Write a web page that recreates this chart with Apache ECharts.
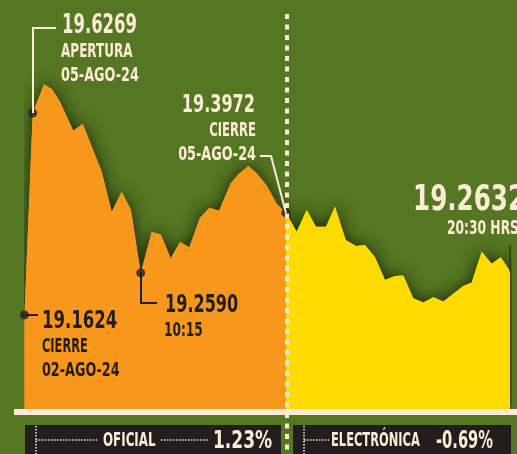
<!DOCTYPE html>
<html>
<head>
<meta charset="utf-8">
<script src="https://cdn.jsdelivr.net/npm/echarts@6/dist/echarts.min.js"></script>
<style>
  html, body { margin: 0; padding: 0; background: #557622; }
  #chart { width: 517px; height: 454px; }
</style>
</head>
<body>
<div id="chart"></div>
<script>
// sesión oficial (02-ago cierre -> 05-ago cierre)
const oficialX = [0, 0.82, 1.95, 2.78, 3.55, 4.88, 5.82, 7.72, 8.72, 9.72, 10.65, 11.62, 12.72, 13.62, 14.62, 15.55, 16.48, 17.55, 18.48, 19.45, 20.62, 21.38, 22.38, 23.22, 24.22, 25.22, 26.12]
const oficialY = [19.1624, 19.6269, 19.693, 19.681, 19.653, 19.586, 19.602, 19.492, 19.400, 19.446, 19.404, 19.2590, 19.353, 19.348, 19.293, 19.330, 19.318, 19.386, 19.409, 19.402, 19.465, 19.486, 19.505, 19.488, 19.460, 19.418, 19.3972]
// mercado electrónico
const electX = [26.12, 27.22, 28.22, 29.15, 30.15, 31.05, 32.12, 33.15, 34.05, 35.05, 36.05, 37.05, 37.88, 38.88, 39.88, 40.88, 41.88, 42.88, 43.88, 44.72, 45.72, 46.72, 47.62, 48.55]
const electY = [19.3972, 19.354, 19.404, 19.365, 19.365, 19.411, 19.335, 19.321, 19.323, 19.295, 19.243, 19.252, 19.253, 19.201, 19.191, 19.203, 19.193, 19.211, 19.229, 19.237, 19.308, 19.280, 19.295, 19.2632]
// puntos marcados
const keyIdx = [0, 1, 11, 26]

const cream = '#fcebd5'
const dark = '#231e1d'
const green = '#557622'
const orange = '#f7981c'
const yellow = '#fedb00'
const FONT = '"Liberation Sans Narrow", "DejaVu Sans Condensed", sans-serif'

const toPairs = (xs, ys) => xs.map((x, i) => [x, ys[i]])

function txt(text, x, y, size, color, align, sx) {
  return {
    type: 'text', x, y, scaleX: sx || 1, z: 20,
    style: { text, fill: color, font: `bold ${size}px ${FONT}`, textAlign: align || 'left', textVerticalAlign: 'middle' }
  }
}
function seg(points, color, w, dash) {
  return { type: 'polyline', z: 15, shape: { points }, style: { stroke: color, lineWidth: w, fill: null, lineDash: dash || null } }
}
function area(data, color, z, shadow) {
  return {
    type: 'line', data, symbol: 'none', z, silent: true,
    lineStyle: { width: 0 },
    areaStyle: shadow
      ? { color, opacity: 1, shadowBlur: 16, shadowColor: 'rgba(15,22,4,0.85)' }
      : { color, opacity: 1 }
  }
}

const oficial = toPairs(oficialX, oficialY)
const elect = toPairs(electX, electY)

const chart = echarts.init(document.getElementById('chart'))
chart.setOption({
  backgroundColor: green,
  animation: false,
  grid: { left: 24.5, right: 6, top: 16, bottom: 45 },
  xAxis: { type: 'value', min: 0, max: 48.65, show: false },
  yAxis: { type: 'value', min: 18.946, max: 19.85, show: false },
  series: [
    area(oficial, orange, 2, true),
    area(elect, yellow, 2, true),
    area(oficial, orange, 3, false),
    area(elect, yellow, 3, false),
    {
      type: 'scatter', z: 10, symbolSize: 9,
      data: keyIdx.map(i => [oficialX[i], oficialY[i]]),
      itemStyle: { color: dark }
    }
  ],
  graphic: [
    // línea base
    { type: 'rect', z: 12, shape: { x: 14, y: 409, width: 503, height: 6 }, style: { fill: cream } },
    // divisor punteado
    seg([[287, 14], [287, 454]], cream, 4, [5, 5.5]),
    // cajas inferiores
    { type: 'rect', z: 12, shape: { x: 25, y: 425, width: 256, height: 29 }, style: { fill: dark } },
    { type: 'rect', z: 12, shape: { x: 293, y: 425, width: 218, height: 29 }, style: { fill: dark } },
    seg([[36, 426], [36, 454]], cream, 1.5, [1.5, 1.5]),
    seg([[36, 440], [97, 440]], cream, 1.5, [1.5, 1.5]),
    seg([[161, 440], [208, 440]], cream, 1.5, [1.5, 1.5]),
    seg([[304, 426], [304, 454]], cream, 1.5, [1.5, 1.5]),
    seg([[304, 440], [329, 440]], cream, 1.5, [1.5, 1.5]),
    txt('OFICIAL', 103, 441, 19.5, cream, 'left', 0.677),
    txt('1.23%', 213, 441.5, 24, cream, 'left', 0.79),
    txt('ELECTRÓNICA', 331, 441, 19.5, cream, 'left', 0.653),
    txt('-0.69%', 436, 441.5, 24, cream, 'left', 0.68),
    // apertura
    seg([[33, 113], [33, 28], [56, 28]], cream, 2),
    txt('19.6269', 62, 26.5, 26.5, cream, 'left', 0.69),
    txt('APERTURA', 61, 52, 19.5, cream, 'left', 0.686),
    txt('05-AGO-24', 61, 75.5, 19.5, cream, 'left', 0.73),
    // cierre 05-ago
    seg([[260, 156], [271, 156], [286, 213]], cream, 2),
    txt('19.3972', 255, 105.5, 25, cream, 'right', 0.715),
    txt('CIERRE', 256, 131, 19.5, cream, 'right', 0.665),
    txt('05-AGO-24', 256, 155, 19.5, cream, 'right', 0.73),
    // cierre 02-ago
    seg([[25, 315], [38, 315]], dark, 2),
    txt('19.1624', 42, 321.5, 25, dark, 'left', 0.735),
    txt('CIERRE', 42, 347, 19.5, dark, 'left', 0.65),
    txt('02-AGO-24', 42, 371, 19.5, dark, 'left', 0.727),
    // mínimo
    seg([[141, 272], [141, 303], [157, 303]], dark, 2),
    txt('19.2590', 165, 305.5, 25, dark, 'left', 0.715),
    txt('10:15', 164, 331, 19.5, dark, 'left', 0.695),
    // electrónico
    seg([[510, 245], [510, 272]], dark, 1),
    txt('19.2632', 413, 201, 36, cream, 'left', 0.76),
    txt('20:30 HRS', 447, 229, 19.5, cream, 'left', 0.70)
  ]
})
</script>
</body>
</html>
